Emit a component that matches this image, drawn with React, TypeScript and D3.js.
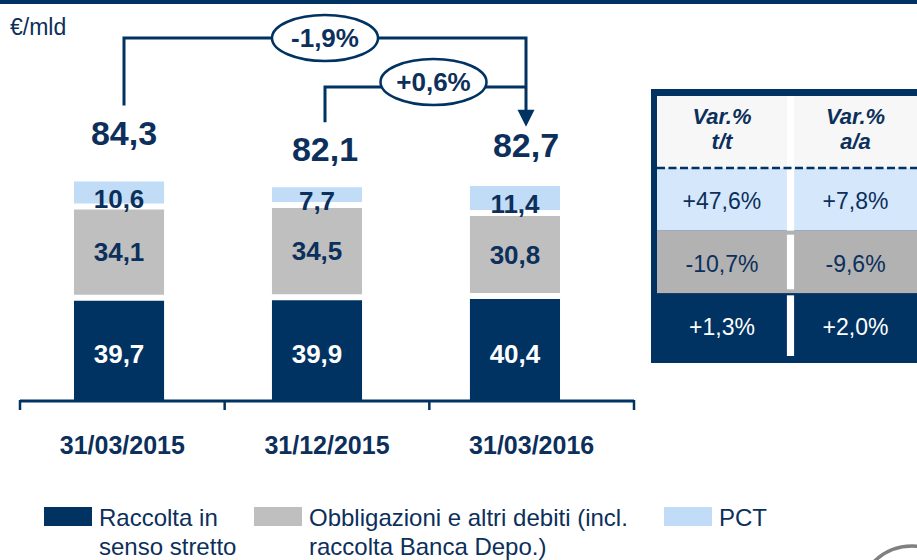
import React from 'react';
import * as d3 from 'd3';

const categories = ['31/03/2015', '31/12/2015', '31/03/2016'];
const raccolta = [39.7, 39.9, 40.4];
const obbligazioni = [34.1, 34.5, 30.8];
const pct = [10.6, 7.7, 11.4];
const totals = [84.3, 82.1, 82.7];
const seriesKeys = ['raccolta', 'obbligazioni', 'pct'];
const legendLines = [
  ['Raccolta in', 'senso stretto'],
  ['Obbligazioni e altri debiti (incl.', 'raccolta Banca Depo.)'],
  ['PCT'],
];
const changeFrom = [0, 1];
const changeTo = [2, 2];
const changeLabels = ['-1,9%', '+0,6%'];
const tableHeaders = [['Var.%', 't/t'], ['Var.%', 'a/a']];
const tableRows = ['pct', 'obbligazioni', 'raccolta'];
const varQoQ = ['+47,6%', '-10,7%', '+1,3%'];
const varYoY = ['+7,8%', '-9,6%', '+2,0%'];
const unitLabel = '€/mld';

const NAVY = '#003262';
const TEXT_NAVY = '#0c2f5b';
const GRAY = '#bfbfbf';
const LIGHT = '#c0dcf7';
const T_LIGHT = '#d5e8fb';
const T_GRAY = '#b2b2b2';
const T_HEAD = '#f7f7f7';
const FONT = '"Liberation Sans", Arial, sans-serif';

const fmt = (v: number) => d3.format('.1f')(v).replace('.', ',');

export default function App() {
  const W = 917, H = 560;
  const rows = categories.map((c, i) => ({ cat: c, raccolta: raccolta[i], obbligazioni: obbligazioni[i], pct: pct[i] }));
  const stack = d3.stack<any>().keys(seriesKeys)(rows);
  const colors: Record<string, string> = { raccolta: NAVY, obbligazioni: GRAY, pct: LIGHT };
  const labelColors: Record<string, string> = { raccolta: '#ffffff', obbligazioni: TEXT_NAVY, pct: TEXT_NAVY };

  const xBar = d3.scaleBand().domain(categories).range([20, 614]).paddingInner(0.545).paddingOuter(0.2727);
  const y = d3.scaleLinear().domain([0, 100]).range([400, 150]);
  const xAxis = d3.scaleBand().domain(categories).range([20, 634]);
  const xTot = d3.scalePoint().domain(categories).range([124, 526]);
  const yTot = d3.scaleLinear().domain([82, 84.5]).range([150, 131]);
  const yBracket = d3.scalePoint().domain(changeLabels).range([38, 87]);
  const GAP = 6;

  const tickXs = [...categories.map((c) => xAxis(c)!), 634];

  // table scales
  const tCol = d3.scaleBand().domain(['qoq', 'yoy']).range([657, 924]).paddingInner(0.0525);
  const tRow = d3.scaleBand().domain(tableRows).range([168, 356]);
  const tRowFill: Record<string, string> = { pct: T_LIGHT, obbligazioni: T_GRAY, raccolta: NAVY };
  const tRowText: Record<string, string> = { pct: TEXT_NAVY, obbligazioni: TEXT_NAVY, raccolta: '#ffffff' };
  const colVals: Record<string, string[]> = { qoq: varQoQ, yoy: varYoY };
  const visCenter = (k: string) => (tCol(k)! + Math.min(tCol(k)! + tCol.bandwidth(), W)) / 2;
  const divX0 = tCol('qoq')! + tCol.bandwidth();
  const divX1 = tCol('yoy')!;

  const legendX = [44, 254, 664];
  const legendFill = [NAVY, GRAY, LIGHT];

  return (
    <svg width={W} height={H} style={{ position: 'absolute', left: 0, top: 0, background: '#fff' }} fontFamily={FONT}>
      <rect x={0} y={0} width={W} height={4} fill={NAVY} />
      <text x={10} y={27} dominantBaseline="central" fontSize={23} fill={TEXT_NAVY}>{unitLabel}</text>

      {/* bars */}
      {stack.map((s, si) => (
        <g key={s.key}>
          {s.map((d, i) => {
            const top = si === 2 ? 4.5 : 0;
            const y0 = y(d[0]) - GAP * si;
            const y1 = y(d[1]) - GAP * si + top;
            const cx = xBar(categories[i])! + xBar.bandwidth() / 2;
            const v = d[1] - d[0];
            return (
              <g key={i}>
                <rect x={xBar(categories[i])} y={y1} width={xBar.bandwidth()} height={y0 - y1} fill={colors[s.key]} />
                <text x={cx} y={(y0 + y1) / 2 + (si === 2 ? 6 : si === 0 ? 4 : 0)} textAnchor="middle" dominantBaseline="central"
                  fontSize={26} fontWeight="bold" fill={labelColors[s.key]}>{fmt(v)}</text>
              </g>
            );
          })}
        </g>
      ))}

      {/* axis */}
      <line x1={20} x2={634} y1={401} y2={401} stroke={NAVY} strokeWidth={3} />
      {tickXs.map((x, i) => (
        <line key={i} x1={x} x2={x} y1={400} y2={410} stroke={NAVY} strokeWidth={2.5} />
      ))}
      {categories.map((c) => (
        <text key={c} x={xAxis(c)! + xAxis.bandwidth() / 2} y={445} textAnchor="middle" dominantBaseline="central"
          fontSize={25} fontWeight="bold" fill={TEXT_NAVY}>{c}</text>
      ))}

      {/* totals */}
      {categories.map((c, i) => (
        <text key={c} x={xTot(c)} y={yTot(totals[i])} textAnchor="middle" dominantBaseline="central"
          fontSize={34} fontWeight="bold" fill={TEXT_NAVY}>{fmt(totals[i])}</text>
      ))}

      {/* brackets */}
      {changeLabels.map((lab, k) => {
        const xf = xTot(categories[changeFrom[k]])!;
        const xt = xTot(categories[changeTo[k]])!;
        const yl = yBracket(lab)!;
        const yStart = yTot(totals[changeFrom[k]]) - 27;
        const cx = (xf + xt) / 2 + (k === 1 ? 8 : 0);
        const tip = yTot(totals[changeTo[k]]) - 18;
        return (
          <g key={lab}>
            <path d={`M${xf},${yStart}V${yl}H${xt}` + (k === 0 ? `V${tip - 16}` : '')} fill="none" stroke={NAVY} strokeWidth={3} />
            {k === 0 && <path d={`M${xt - 8.5},${tip - 17}H${xt + 8.5}L${xt},${tip}Z`} fill={NAVY} />}
            <ellipse cx={cx} cy={yl - (k === 1 ? 5 : 0)} rx={53} ry={23} fill="#fff" stroke={NAVY} strokeWidth={2.5} />
            <text x={cx} y={yl - (k === 1 ? 5 : 0)} textAnchor="middle" dominantBaseline="central" fontSize={26} fontWeight="bold" fill={TEXT_NAVY}>{lab}</text>
          </g>
        );
      })}

      {/* table */}
      <rect x={651} y={89} width={W - 651} height={363 - 89} fill={NAVY} />
      <rect x={657} y={96} width={W - 657} height={168 - 96} fill={T_HEAD} />
      {tableRows.map((r) => (
        <rect key={r} x={657} y={tRow(r)} width={W - 657} height={tRow.bandwidth()} fill={tRowFill[r]} />
      ))}
      <rect x={divX0} y={96} width={divX1 - divX0} height={tRow('pct')! + tRow.bandwidth() - 96} fill="#fff" />
      <rect x={divX0} y={tRow('obbligazioni')! + 4} width={divX1 - divX0} height={tRow.bandwidth() - 8} fill="#fff" />
      <rect x={divX0} y={tRow('raccolta')! + 2} width={divX1 - divX0} height={tRow.bandwidth() - 2} fill="#fff" />
      <line x1={657} x2={W} y1={168} y2={168} stroke={NAVY} strokeWidth={2.5} strokeDasharray="8 3.5" />
      {(['qoq', 'yoy'] as const).map((k, ci) => (
        <g key={k}>
          {tableHeaders[ci].map((t, li) => (
            <text key={li} x={visCenter(k)} y={116.7 + li * 25} textAnchor="middle" dominantBaseline="central"
              fontSize={22} fontWeight="bold" fontStyle="italic" fill={TEXT_NAVY}>{t}</text>
          ))}
          {tableRows.map((r, ri) => (
            <text key={r} x={visCenter(k)} y={tRow(r)! + tRow.bandwidth() / 2 + 2} textAnchor="middle" dominantBaseline="central"
              fontSize={23} fill={tRowText[r]}>{colVals[k][ri]}</text>
          ))}
        </g>
      ))}

      {/* legend */}
      {legendLines.map((lines, i) => (
        <g key={i}>
          <rect x={legendX[i]} y={507} width={48} height={19} fill={legendFill[i]} />
          {lines.map((l, li) => (
            <text key={li} x={legendX[i] + 55} y={526 + li * 29} fontSize={24} fill={TEXT_NAVY}>{l}</text>
          ))}
        </g>
      ))}

      {/* logo fragment */}
      <circle cx={912} cy={600} r={54} fill="none" stroke="#808080" strokeWidth={3.5} />
    </svg>
  );
}
